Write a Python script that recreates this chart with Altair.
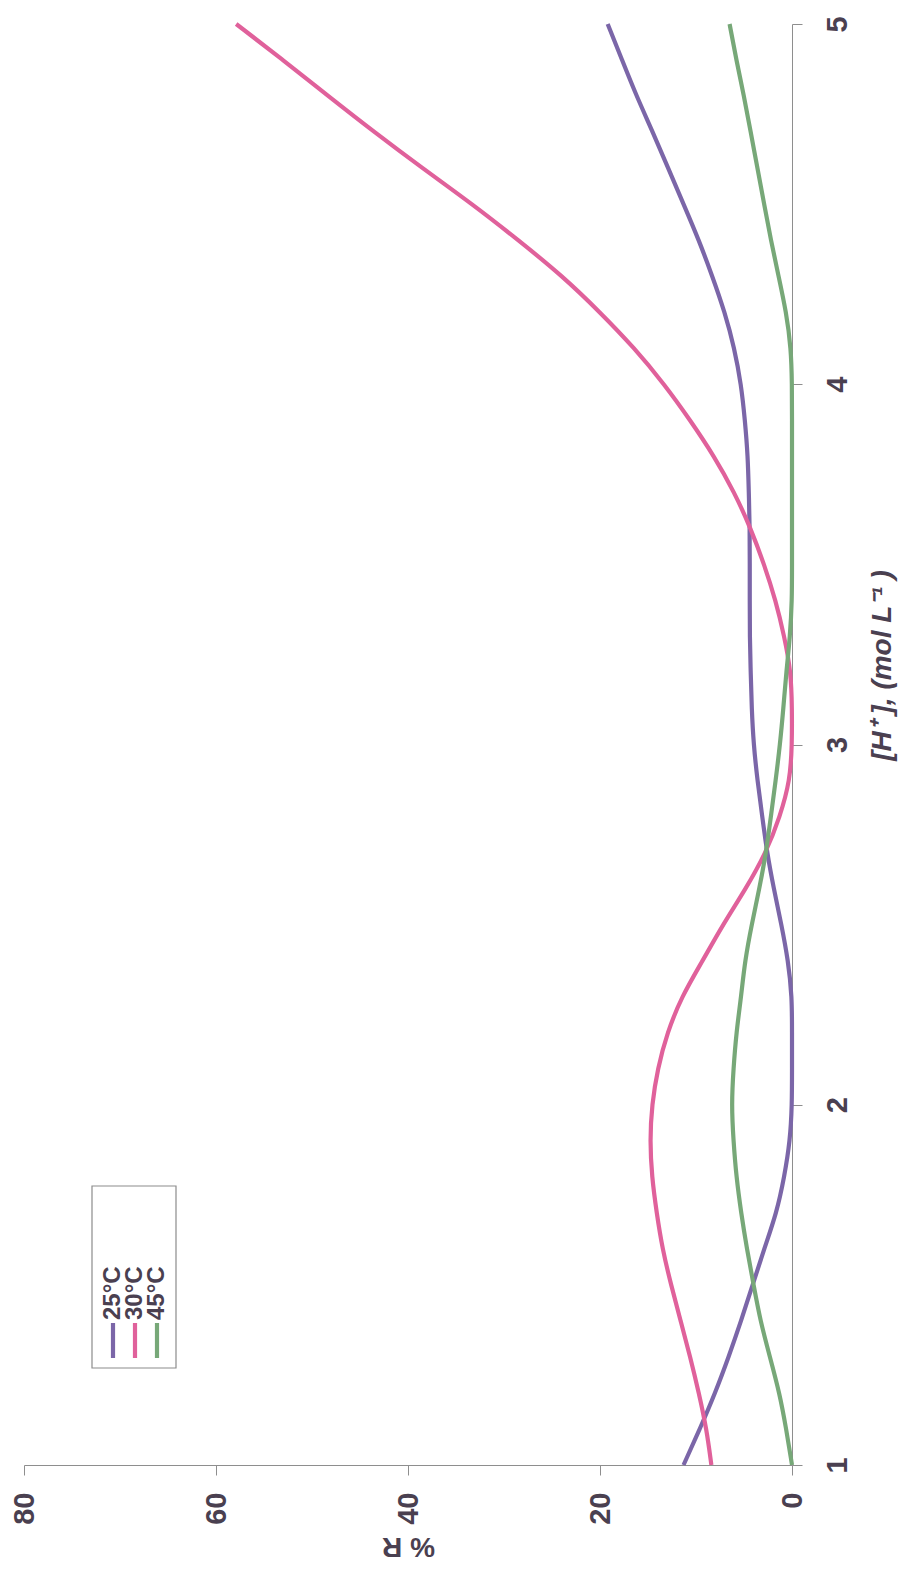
import altair as alt
import pandas as pd

# [H+] (mol/L) sampling positions
H = [1.0, 1.1, 1.2, 1.3, 1.4, 1.5, 1.6, 1.7, 1.8, 1.9,
     2.0, 2.1, 2.2, 2.3, 2.4, 2.5, 2.6, 2.7, 2.8, 2.9,
     3.0, 3.1, 3.2, 3.3, 3.4, 3.5, 3.6, 3.7, 3.8, 3.9,
     4.0, 4.1, 4.2, 4.3, 4.4, 4.5, 4.6, 4.7, 4.8, 4.9, 5.0]

# % R
R_25 = [11.3, 9.6, 8.0, 6.6, 5.3, 4.1, 2.9, 1.6, 0.8, 0.2,
        0.0, 0.0, 0.0, 0.0, 0.4, 1.1, 1.9, 2.6, 3.1, 3.6,
        4.0, 4.2, 4.3, 4.4, 4.4, 4.4, 4.4, 4.5, 4.6, 4.9,
        5.3, 6.0, 7.0, 8.3, 9.7, 11.3, 12.9, 14.5, 16.2, 17.7, 19.2]
R_30 = [8.4, 8.9, 9.7, 10.6, 11.6, 12.6, 13.5, 14.1, 14.6, 14.8,
        14.6, 14.0, 13.0, 11.5, 9.3, 7.2, 4.8, 2.7, 1.25, 0.2,
        0.0, 0.0, 0.1, 0.8, 1.7, 2.9, 4.3, 6.0, 8.1, 10.6,
        13.3, 16.4, 20.0, 23.9, 28.5, 33.3, 38.5, 43.5, 48.3, 53.0, 57.9]
R_45 = [0.0, 0.6, 1.3, 2.3, 3.3, 4.0, 4.7, 5.3, 5.8, 6.1,
        6.3, 6.1, 5.8, 5.3, 4.9, 4.2, 3.4, 2.7, 2.2, 1.7,
        1.25, 0.9, 0.6, 0.2, 0.0, 0.0, 0.0, 0.0, 0.0, 0.0,
        0.0, 0.1, 0.6, 1.4, 2.2, 2.9, 3.6, 4.3, 5.0, 5.8, 6.5]

series_names = ["25°C", "30°C", "45°C"]
series_colors = ["#7b66a8", "#e0619b", "#77a878"]
x_ticks = [0, 20, 40, 60, 80]
y_ticks = [1, 2, 3, 4, 5]

rows = []
for name, vals in zip(series_names, [R_25, R_30, R_45]):
    for h, r in zip(H, vals):
        rows.append({"series": name, "H": h, "R": r})
df = pd.DataFrame(rows)

FONT = "Liberation Sans"
TXT = "#4a4050"
AX = "#8e8e8e"
LW = 4.2

lines = alt.Chart(df).mark_line(strokeWidth=LW, interpolate="basis").encode(
    x=alt.X("R:Q",
            scale=alt.Scale(domain=[0, 80], reverse=True, nice=False, zero=False),
            axis=alt.Axis(values=x_ticks, orient="bottom", title="% R",
                          labelAngle=270, labelAlign="right", labelBaseline="middle",
                          labelFontSize=29, labelFont=FONT, labelFontWeight="bold",
                          labelColor=TXT, labelPadding=17, tickSize=10,
                          tickColor=AX, domainColor=AX, grid=False,
                          titleAngle=180, titleFontSize=28, titleFont=FONT,
                          titleFontWeight="bold", titleColor=TXT,
                          titleX=384, titleY=80, titleAlign="center",
                          titleBaseline="middle")),
    y=alt.Y("H:Q",
            scale=alt.Scale(domain=[1, 5], nice=False, zero=False),
            axis=alt.Axis(values=y_ticks, orient="right", title="[H⁺ ], (mol L⁻¹ )",
                          labelAngle=270, labelAlign="center", labelBaseline="top",
                          labelFontSize=29, labelFont=FONT, labelFontWeight="bold",
                          labelColor=TXT, labelPadding=21, tickSize=10,
                          tickColor=AX, domainColor=AX, grid=False,
                          titleAngle=270, titleFontSize=28, titleFont=FONT,
                          titleFontWeight="bold", titleFontStyle="italic",
                          titleColor=TXT, titleX=90, titleY=641,
                          titleAlign="center", titleBaseline="middle")),
    color=alt.Color("series:N",
                    scale=alt.Scale(domain=series_names, range=series_colors),
                    legend=None),
    order=alt.Order("H:Q"),
)

# hand-made rotated legend
legend_box = alt.Chart(pd.DataFrame({"k": [0]})).mark_rect(
    fill="white", stroke="#8c8c8c", strokeWidth=1.2
).encode(x=alt.value(68), x2=alt.value(152), y=alt.value(1162), y2=alt.value(1344))

legend_x = [89, 111, 133]
layers = [legend_box, lines]
for name, col, lx in zip(series_names, series_colors, legend_x):
    d = pd.DataFrame({"label": [name]})
    layers.append(
        alt.Chart(d).mark_rule(color=col, strokeWidth=LW).encode(
            x=alt.value(lx), y=alt.value(1299), y2=alt.value(1334))
    )
    layers.append(
        alt.Chart(d).mark_text(angle=270, align="left", baseline="middle",
                               fontSize=24, font=FONT, fontWeight="bold",
                               color=TXT).encode(
            x=alt.value(lx), y=alt.value(1296), text="label:N")
    )

chart = alt.layer(*layers).properties(
    width=768, height=1441,
    background="white",
    autosize=alt.AutoSizeParams(type="none"),
    padding={"left": 16, "top": 16, "right": 122, "bottom": 98},
).configure_view(stroke=None)

chart.save("out.html", embed_options={"renderer": "svg", "actions": False})
